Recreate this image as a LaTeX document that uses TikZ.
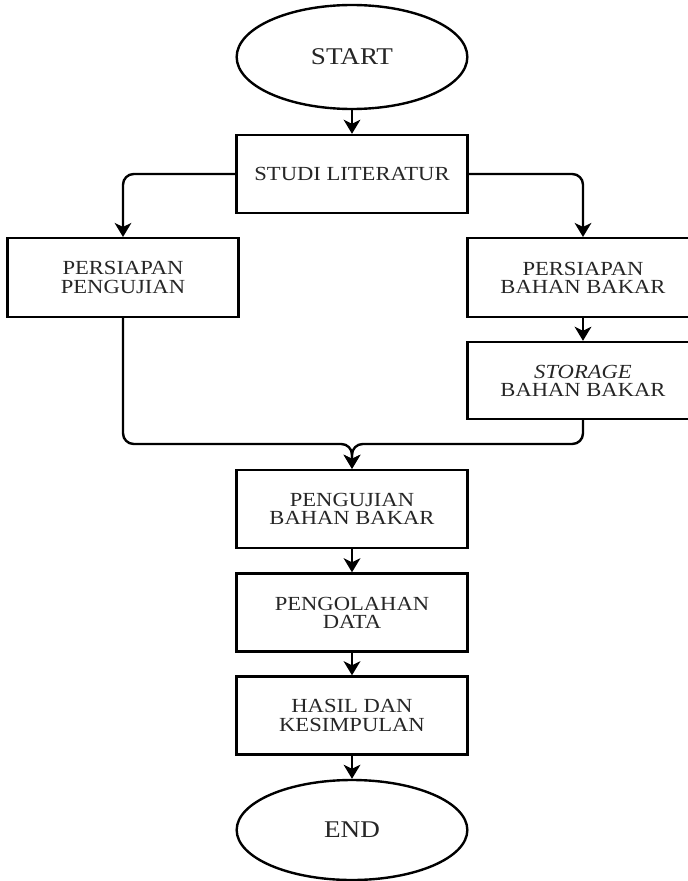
\documentclass[tikz,border=0pt]{standalone}
\usepackage{fontspec}
\setmainfont{Liberation Serif}[FakeStretch=1.13]
\usetikzlibrary{shapes.geometric,arrows.meta}
\begin{document}
\begin{tikzpicture}[x=0.75pt,y=-0.75pt,
  box/.style={draw,line width=1.8pt,minimum width=173pt,minimum height=58.5pt,inner sep=0pt,align=center,font=\fontsize{15}{13.6}\selectfont,text=black!85},
  term/.style={draw,ellipse,line width=1.8pt,minimum width=173pt,inner sep=0pt,font=\fontsize{18}{20}\selectfont,text=black!85},
  conn/.style={line width=1.8pt,-{Stealth[length=10.5pt,width=12.5pt,inset=3pt]}},
  link/.style={rounded corners=8pt}]
\useasboundingbox (0,0) rectangle (688,881);
\clip (0,0) rectangle (688,881);
\node[term,minimum height=78pt] (start) at (352,57) {START};
\node[box] (studi) at (352,174) {STUDI LITERATUR};
\node[box,minimum height=59pt] (left) at (123,277.5) {PERSIAPAN\\PENGUJIAN};
\node[box,minimum height=59pt] (right) at (583,277.5) {PERSIAPAN\\BAHAN BAKAR};
\node[box,minimum height=57.75pt] (storage) at (583,380.5) {\textit{STORAGE}\\BAHAN BAKAR};
\node[box] (peng) at (352,509) {PENGUJIAN\\BAHAN BAKAR};
\node[box] (olah) at (352,612.5) {PENGOLAHAN\\DATA};
\node[box] (hasil) at (352,715.5) {HASIL DAN\\KESIMPULAN};
\node[term,minimum height=75pt] (end) at (352,830) {END};
\coordinate (m) at (352,444);
\draw[conn] (start) -- (studi);
\draw[conn,link] (studi.west) -| (left.north);
\draw[conn,link] (studi.east) -| (right.north);
\draw[conn] (right) -- (storage);
\draw[conn,link] (left.south) |- (m) -- (peng.north);
\draw[conn,link] (storage.south) |- (m) -- (peng.north);
\draw[conn] (peng) -- (olah);
\draw[conn] (olah) -- (hasil);
\draw[conn] (hasil) -- (end);
\end{tikzpicture}
\end{document}
